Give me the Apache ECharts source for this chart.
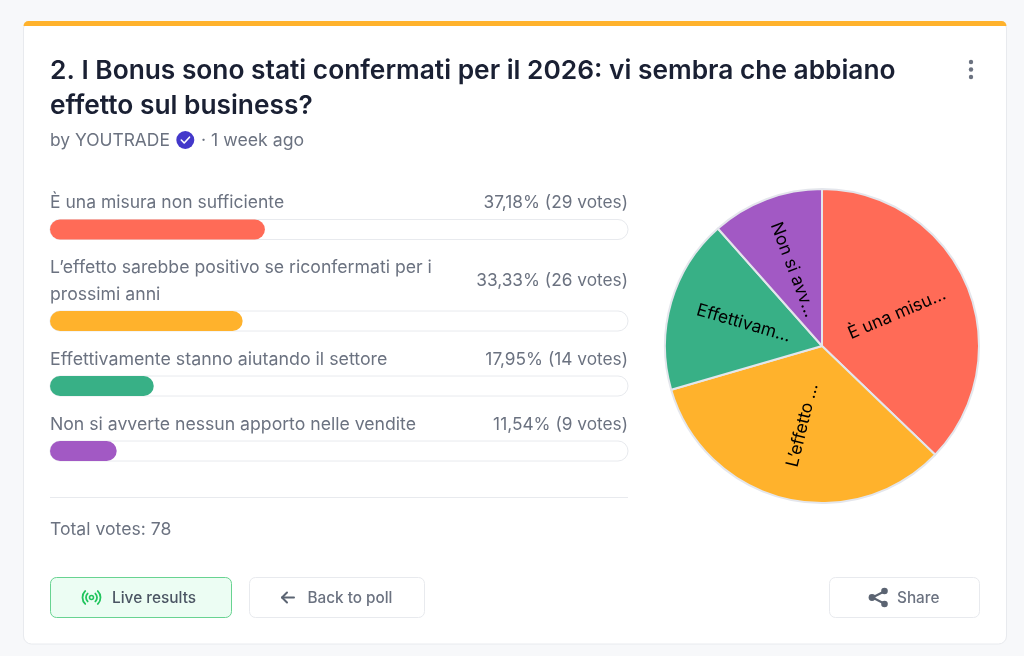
<!DOCTYPE html>
<html>
<head>
<meta charset="utf-8">
<style>html,body{margin:0;padding:0;background:#f7f8fa}#c{width:1024px;height:656px}</style>
<script src="https://cdn.jsdelivr.net/npm/echarts@6/dist/echarts.min.js"></script>
</head>
<body>
<div id="c"></div>
<script>
const categories = ['È una misura non sufficiente', 'L’effetto sarebbe positivo se riconfermati per i prossimi anni', 'Effettivamente stanno aiutando il settore', 'Non si avverte nessun apporto nelle vendite'];
const rowLines = [['È una misura non sufficiente'], ['L’effetto sarebbe positivo se riconfermati per i', 'prossimi anni'], ['Effettivamente stanno aiutando il settore'], ['Non si avverte nessun apporto nelle vendite']];
const pieLabels = ['È una misu...', 'L’effetto ...', 'Effettivam...', 'Non si avv...'];
const votes = [29, 26, 14, 9];
const percents = [37.18, 33.33, 17.95, 11.54];
const percentLabels = ['37,18% (29 votes)', '33,33% (26 votes)', '17,95% (14 votes)', '11,54% (9 votes)'];
const colors = ['#ff6b57', '#ffb22c', '#38b086', '#a259c4'];
const titleLines = ['2. I Bonus sono stati confermati per il 2026: vi sembra che abbiano', 'effetto sul business?'];

const F = 'Inter, sans-serif';
const grey = '#6b7280', dark = '#1a2033', line = '#e8eaee';
function T(text, x, y, o) {
  o = o || {};
  return {type:'text', silent:true, z:o.z||10, style:{text, x, y, align:o.align||'left', verticalAlign:'middle',
    font:(o.weight||400)+' '+(o.size||17.5)+'px '+F, fill:o.fill||grey}};
}
function R(x, y, w, h, r, fill, stroke, z) {
  return {type:'rect', silent:true, z:z||2, shape:{x, y, width:w, height:h, r}, style:{fill, stroke:stroke||null, lineWidth:stroke?1:0}};
}
function C(cx, cy, r, fill, z) { return {type:'circle', silent:true, z:z||10, shape:{cx, cy, r}, style:{fill}}; }
function L(pts, stroke, w) { return {type:'polyline', silent:true, z:10, shape:{points:pts}, style:{stroke, lineWidth:w, fill:null, lineCap:'round', lineJoin:'round'}}; }
function A(cx, cy, r, a0, a1, stroke, w) {
  return {type:'arc', silent:true, z:10, shape:{cx, cy, r, startAngle:a0, endAngle:a1, clockwise:true}, style:{stroke, lineWidth:w, fill:null, lineCap:'round'}};
}

const rowTextY = [[202.5], [267.5, 294.5], [359.5], [424.5]];
const rowSize = [17.5, 17.65, 17.8, 17.65];
const rowPctY = [202.5, 281, 359.5, 424.5];
const barTop = [219.5, 311, 376, 441];

const graphics = [
  R(23.5, 25, 983, 619, [3,3,8,8], '#ffffff', line, 2),
  R(23.5, 21, 983, 5, [8,8,0,0], '#ffb22c', null, 3),
  T(titleLines[0], 50, 71, {size:26.3, weight:600, fill:dark}),
  T(titleLines[1], 50, 106, {size:26.3, weight:600, fill:dark}),
  C(971, 62, 2.2, grey), C(971, 69.5, 2.2, grey), C(971, 77, 2.2, grey),
  T('by YOUTRADE', 50, 141, {size:17.4}),
  C(185.3, 140, 9, '#4338ca'),
  L([[181.3,140],[184.2,143],[189.5,137.2]], '#ffffff', 1.6),
  T('· 1 week ago', 201, 141, {size:17.7}),
  {type:'line', silent:true, z:3, shape:{x1:50, y1:497.5, x2:628, y2:497.5}, style:{stroke:line, lineWidth:1}},
  T('Total votes: 78', 50, 530, {size:17.6}),
  R(50.5, 577.5, 181, 40, 6, '#ecfdf3', '#68d391', 3),
  A(91.5, 597.5, 2, 0, Math.PI*2, '#22c55e', 1.6),
  A(91.5, 597.5, 5.5, -0.8, 0.8, '#22c55e', 1.8),
  A(91.5, 597.5, 5.5, Math.PI-0.8, Math.PI+0.8, '#22c55e', 1.8),
  A(91.5, 597.5, 9, -0.8, 0.8, '#22c55e', 1.8),
  A(91.5, 597.5, 9, Math.PI-0.8, Math.PI+0.8, '#22c55e', 1.8),
  T('Live results', 112, 598.5, {size:15.4, weight:500, fill:'#4b5563'}),
  R(249.5, 577.5, 175, 40, 6, '#ffffff', line, 3),
  L([[282,597.5],[294,597.5]], '#5b6472', 2),
  L([[287,592.5],[282,597.5],[287,602.5]], '#5b6472', 2),
  T('Back to poll', 307.5, 598.5, {size:15.3, weight:500}),
  R(829.5, 577.5, 150, 40, 6, '#ffffff', line, 3),
  L([[885,591],[872.5,597.5],[885,604]], '#5b6472', 2),
  C(884.5, 591, 3.3, '#5b6472'), C(872, 597.5, 3.4, '#5b6472'), C(884.5, 604, 3.3, '#5b6472'),
  T('Share', 897, 598.5, {size:15.3, weight:500})
];
rowLines.forEach((ls, i) => {
  ls.forEach((s, j) => graphics.push(T(s, 50, rowTextY[i][j], {size:rowSize[i]})));
  graphics.push(T(percentLabels[i], 628, rowPctY[i], {align:'right', size:17.3}));
});

const grids = [], xAxes = [], yAxes = [], series = [];
percents.forEach((p, i) => {
  grids.push({left:50, top:barTop[i], width:578, height:20, containLabel:false});
  xAxes.push({type:'value', gridIndex:i, min:0, max:100, show:false});
  yAxes.push({type:'category', gridIndex:i, data:[categories[i]], show:false});
  series.push({type:'bar', xAxisIndex:i, yAxisIndex:i, data:[p], barWidth:20, silent:true, z:5, animation:false,
    showBackground:true, backgroundStyle:{color:'#ffffff', borderColor:line, borderWidth:1, borderRadius:10},
    itemStyle:{color:colors[i], borderRadius:10}});
});
series.push({
  type:'pie', center:[822, 346], radius:[0, 157], startAngle:90, clockwise:true, z:6, animation:false, silent:true,
  avoidLabelOverlap:false, percentPrecision:2,
  data: categories.map((c, i) => ({name:c, value:votes[i], itemStyle:{color:colors[i]}, label:{formatter:pieLabels[i]}})),
  itemStyle:{borderColor:'#e4e6ec', borderWidth:2},
  label:{show:true, position:'inside', rotate:'radial', color:'#000000', fontFamily:F, fontSize:17.4},
  labelLine:{show:false}
});
const chart = echarts.init(document.getElementById('c'), null, {renderer:'canvas', width:1024, height:656});
chart.setOption({animation:false, backgroundColor:'#f7f8fa', grid:grids, xAxis:xAxes, yAxis:yAxes, series, graphic:{elements:graphics}});
</script>
</body>
</html>
